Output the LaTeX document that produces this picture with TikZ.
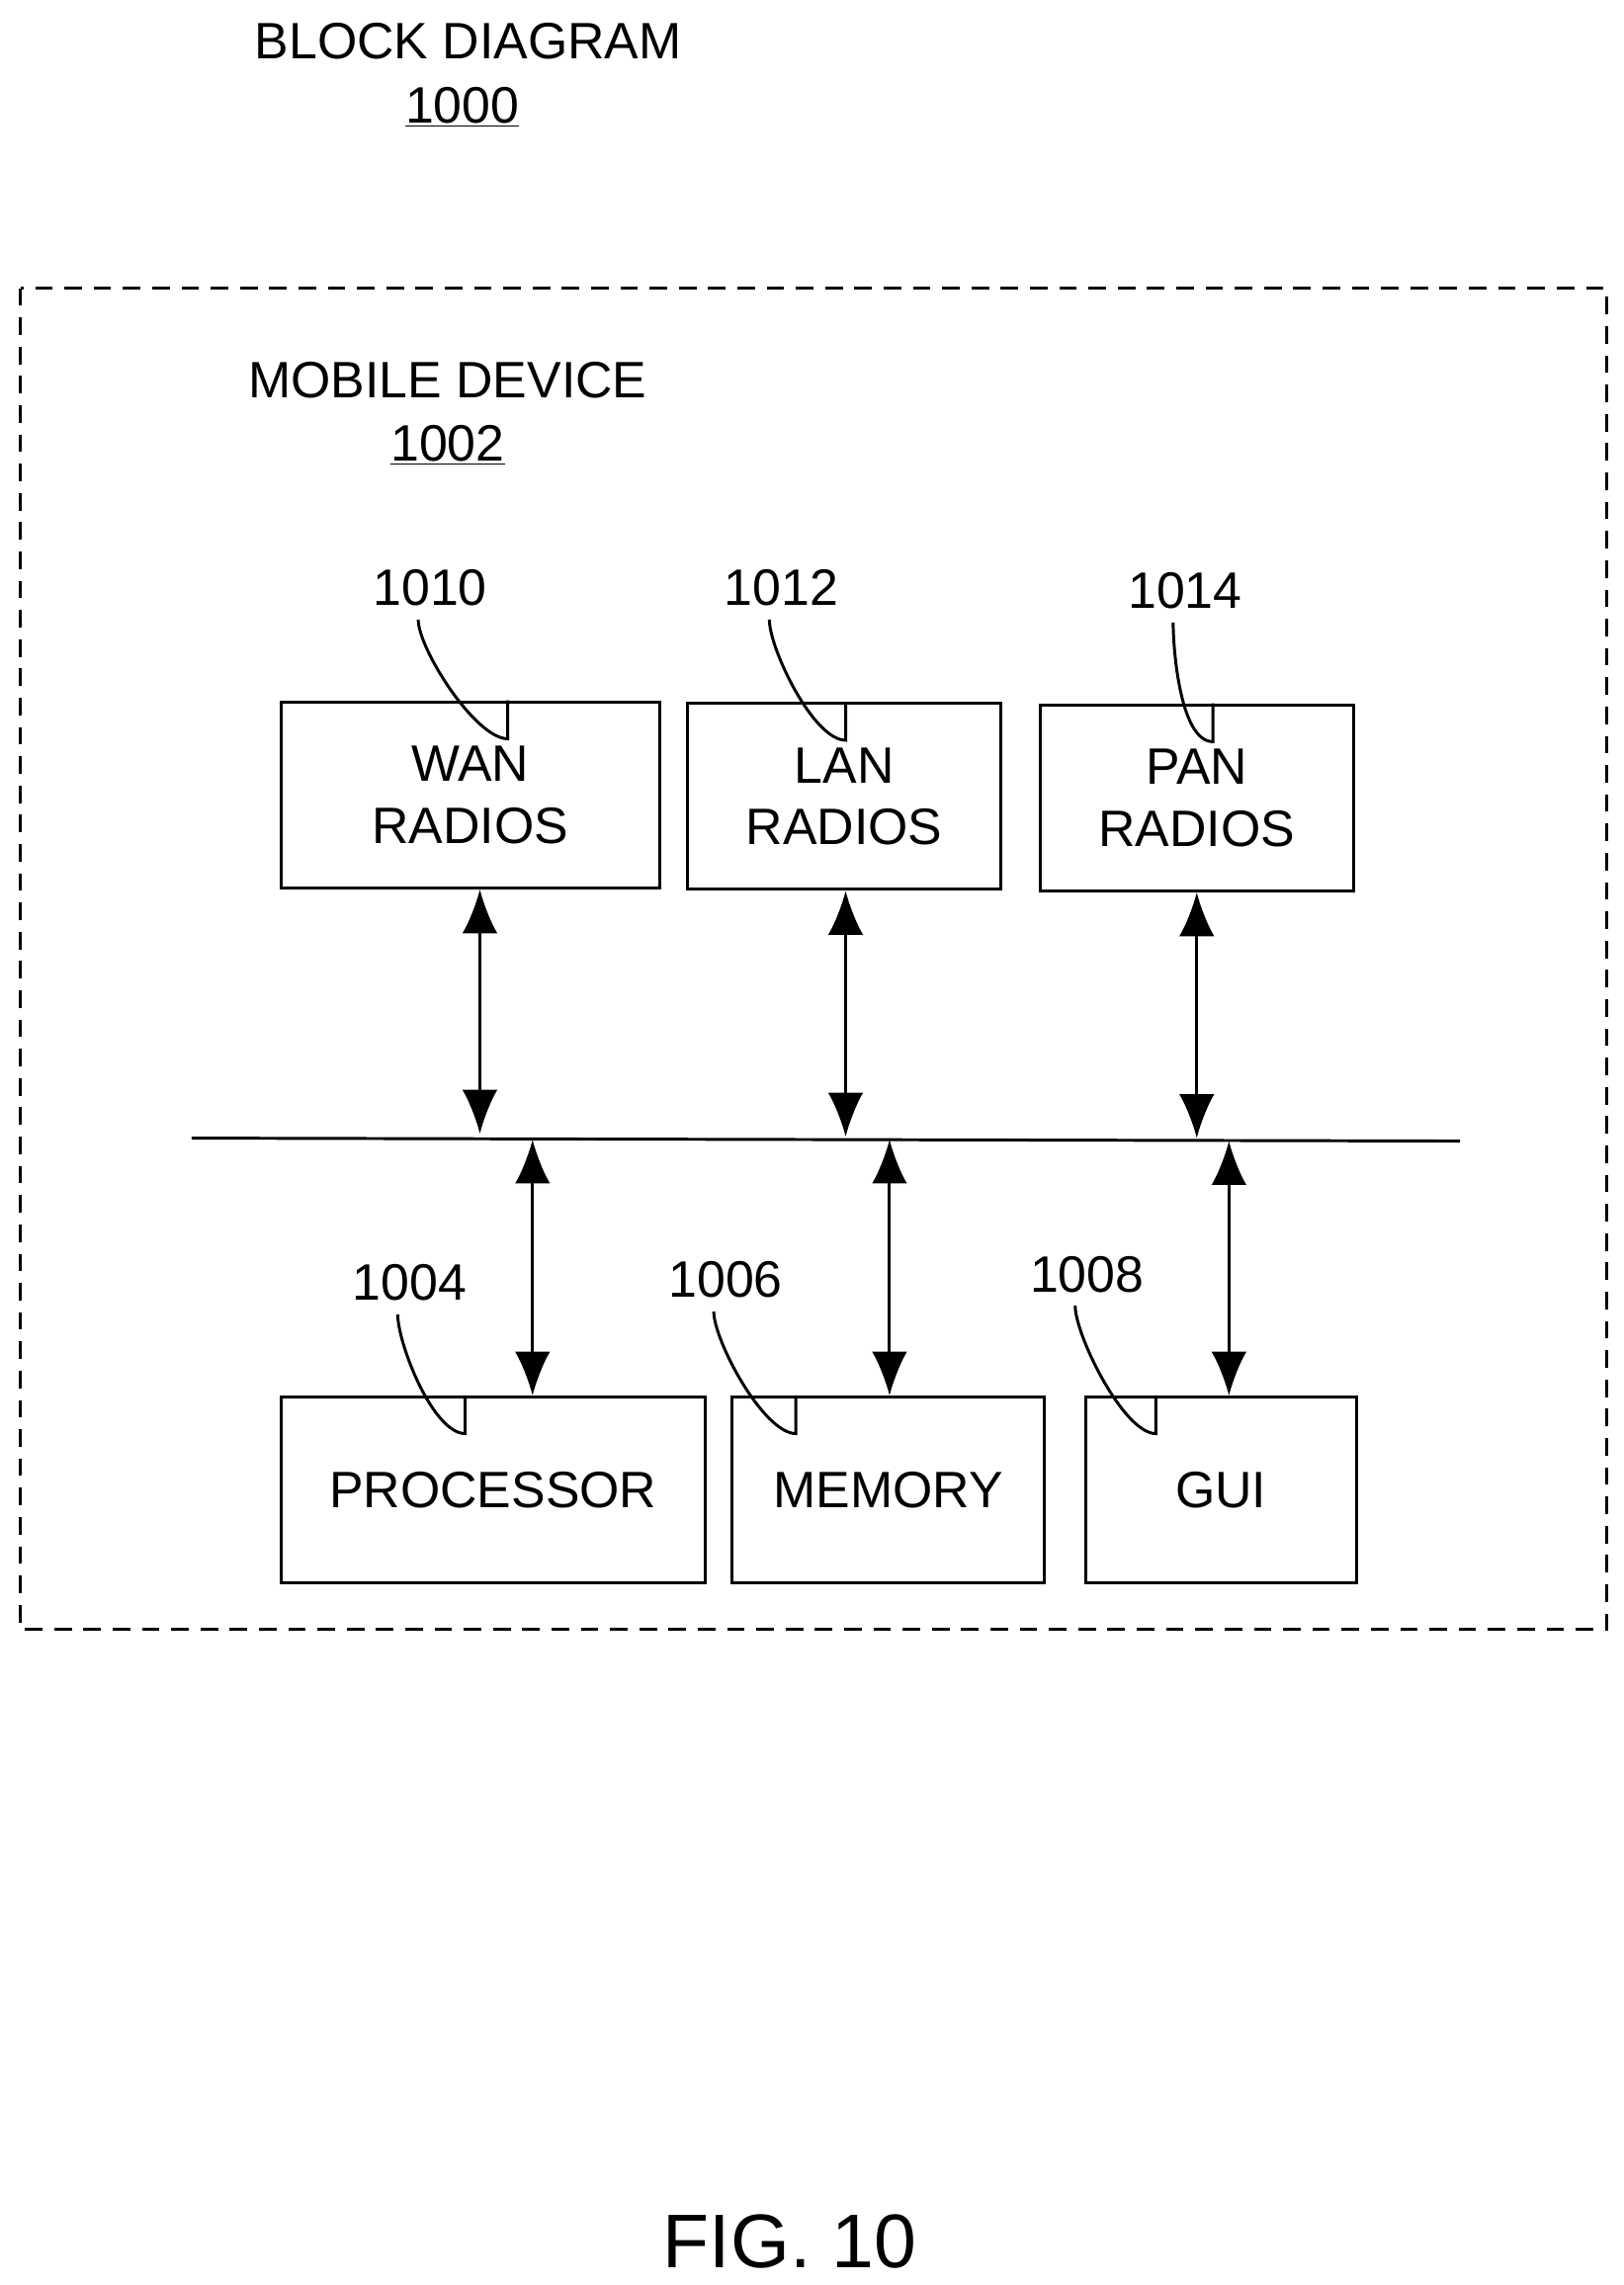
\documentclass[tikz,border=0pt]{standalone}
\usepackage{fontspec}
\setmainfont{Liberation Sans}
\usetikzlibrary{arrows.meta}
\tikzset{
  blk/.style={draw, line width=2pt, inner sep=0pt, align=center, font=\fontsize{35}{42}\selectfont},
  lbl/.style={font=\fontsize{35}{42}\selectfont, inner sep=1pt},
  lead/.style={line width=2pt},
  link/.style={line width=2pt, {Latex[length=30pt,width=24pt]}-{Latex[length=30pt,width=24pt]}}
}
\begin{document}
\begin{tikzpicture}[x=1pt,y=-1pt]
  \useasboundingbox (0,0) rectangle (1110,1562);
  \node[lbl] (title) at (320,28) {BLOCK DIAGRAM};
  \node[lbl] (tnum) at (316,73) {\underline{1000}};
  \draw[line width=2pt, dash pattern=on 12pt off 8pt] (14,197) rectangle (1098,1114);
  \node[lbl] (dev) at (306,260) {MOBILE DEVICE};
  \node[lbl] (dnum) at (306,304) {\underline{1002}};
  % radios
  \node[blk, minimum width=259, minimum height=127] (wan) at (321.5,543.5) {WAN\\RADIOS};
  \node[blk, minimum width=214, minimum height=127] (lan) at (577,544.5) {LAN\\RADIOS};
  \node[blk, minimum width=214, minimum height=127] (pan) at (818,545.5) {PAN\\RADIOS};
  % lower blocks
  \node[blk, minimum width=290, minimum height=127] (cpu) at (337,1018.5) {PROCESSOR};
  \node[blk, minimum width=214, minimum height=127] (mem) at (607,1018.5) {MEMORY};
  \node[blk, minimum width=185, minimum height=127] (gui) at (834.5,1018.5) {GUI};
  % bus
  \coordinate (busl) at (131,778);
  \coordinate (busr) at (998,780);
  \draw[line width=2pt] (busl) -- (busr);
  \coordinate (bwan) at (328,775);
  \coordinate (blan) at (578,777);
  \coordinate (bpan) at (818,778);
  \coordinate (bcpu) at (364,779);
  \coordinate (bmem) at (608,779);
  \coordinate (bgui) at (840,780);
  \draw[link] (wan.south -| bwan) -- (bwan);
  \draw[link] (lan.south -| blan) -- (blan);
  \draw[link] (pan.south -| bpan) -- (bpan);
  \draw[link] (bcpu) -- (cpu.north -| bcpu);
  \draw[link] (bmem) -- (mem.north -| bmem);
  \draw[link] (bgui) -- (gui.north -| bgui);
  % reference numerals
  \node[lbl] (n1010) at (294,402) {1010};
  \node[lbl] (n1012) at (534,402) {1012};
  \node[lbl] (n1014) at (810,404) {1014};
  \node[lbl] (n1004) at (280,877) {1004};
  \node[lbl] (n1006) at (496,875) {1006};
  \node[lbl] (n1008) at (743,871) {1008};
  \coordinate (t1010) at (347,480);
  \coordinate (t1012) at (578,481);
  \coordinate (t1014) at (829,482);
  \coordinate (t1004) at (318,955);
  \coordinate (t1006) at (544,955);
  \coordinate (t1008) at (790,955);
  \foreach \n in {1010,1012,1014,1004,1006,1008}
    \draw[lead] ([xshift=32pt,yshift=-8pt]n\n.south west) .. controls +(0,20) and +(-22,0) .. ([yshift=-25pt]t\n) .. controls +(0,0) and +(0,-8) .. (t\n);
  \node[font=\fontsize{52}{60}\selectfont] (fig) at (540,1532) {FIG. 10};
\end{tikzpicture}
\end{document}
